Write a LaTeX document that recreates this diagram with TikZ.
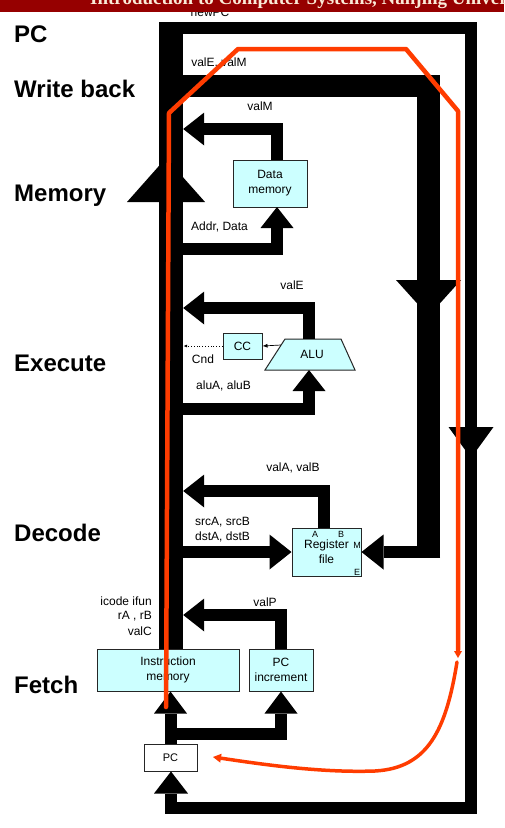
\documentclass[tikz,border=0pt]{standalone}
\usepackage{fontspec}
\setmainfont{Liberation Sans}
\newfontfamily\titlefont{Liberation Serif}
\usetikzlibrary{arrows.meta}
\definecolor{boxfill}{RGB}{204,255,255}
\definecolor{bannerred}{RGB}{150,0,0}
\definecolor{bannertext}{RGB}{250,235,215}
\definecolor{trace}{RGB}{255,60,0}
\begin{document}
\begin{tikzpicture}[x=1pt,y=-1pt,
  bus/.style={line width=12pt, line join=miter, line cap=butt},
  bh/.style={-{Triangle[length=21pt,width=33pt,line width=0pt]}},
  bhw/.style={-{Triangle[length=22pt,width=35pt,line width=0pt]}},
  box/.style={draw=black!85, line width=1pt, fill=boxfill, inner sep=0pt, align=center,
    font=\fontsize{12}{15}\selectfont},
  lbl/.style={inner sep=0pt, font=\fontsize{12}{14}\selectfont},
  tiny/.style={inner sep=0pt, font=\fontsize{9}{10}\selectfont},
  stage/.style={inner sep=0pt, anchor=base west, font=\fontsize{24}{28}\selectfont\bfseries},
  tracepath/.style={draw=trace, line join=round, line cap=round}
]
\useasboundingbox (0,0) rectangle (504,828);
\fill[white] (0,0) rectangle (504,828);

\node[lbl] (newpc) at (210,12) {newPC};
% banner
\fill[bannerred] (0,0) rectangle (504,12);
\begin{scope}
\clip (0,0) rectangle (504,12);
\node[inner sep=0pt, anchor=base west, text=bannertext, font=\titlefont\fontsize{19}{21}\selectfont\bfseries] (title) at (90,4) {Introduction to Computer Systems, Nanjing University};
\end{scope}

% stage labels
\node[stage] (sPC) at (14,42) {PC};
\node[stage] (sWB) at (14,97.5) {Write back};
\node[stage] (sMem) at (14,201.5) {Memory};
\node[stage] (sEx) at (14,371.5) {Execute};
\node[stage] (sDec) at (14,541.5) {Decode};
\node[stage] (sF) at (14,693.5) {Fetch};

% boxes
\node[box, minimum width=74pt, minimum height=47pt] (dmem) at (270,183.5) {Data\\memory};
\node[box, minimum width=39pt, minimum height=26pt] (cc) at (242.5,346) {CC};
\node[box, minimum width=69pt, minimum height=48pt] (reg) at (326.5,552) {Register\\file};
\node[box, minimum width=142pt, minimum height=42pt] (imem) at (168,670) {Instruction\\memory};
\node[box, minimum width=64pt, minimum height=42pt] (pcinc) at (281,670) {PC\\increment};
\node[box, fill=white, minimum width=53pt, minimum height=27pt, font=\fontsize{11}{13}\selectfont] (pc) at (170.5,757.5) {PC};
\draw[box] (265,370) -- (285,339) -- (341,339) -- (355,370) -- cycle;
\node[lbl] (alu) at (312,354.5) {ALU};
\coordinate (aluout) at (309,339);
\coordinate (aluin) at (309,370);
\coordinate (dmemout) at (277,160);
\coordinate (dmemin) at (277,207);
\coordinate (regA) at (323.5,528);
\coordinate (pcincout) at (281,649);

% register file port letters
\node[tiny] (pA) at (315,534) {A};
\node[tiny] (pB) at (341,534) {B};
\node[tiny] (pM) at (357,545) {M};
\node[tiny] (pE) at (357,572) {E};

% left vertical bus
\node[fill=black, inner sep=0pt, minimum width=24pt, minimum height=627pt] (lcol) at (171,335.5) {};
\fill[black] (127,202) -- (205,202) -- (166,158) -- cycle;

% newPC loop
\draw[bus, -{Triangle[length=22pt,width=34pt,line width=0pt]}] (159,28) -- (471,28) -- (471,807.5) -- (171,807.5) -- (pc.south -| 171,0);
\fill[black] (448.5,427) -- (493.5,427) -- (471,458) -- cycle;

% valE, valM write back bus
\draw[line width=22.5pt, line join=miter] (lcol.east |- 0,86) -- (428.5,86) -- (428.5,558);
\fill[black] (396,280) -- (461,280) -- (428.5,316) -- cycle;
\draw[bus, bhw] (440,552) -- (reg.east);

% memory
\draw[bus, bh] (dmemout) |- (lcol.east |- 0,129);
\draw[bus, bh] (lcol.east |- 0,249) -| (dmemin);

% execute
\draw[bus, bh] (aluout) |- (lcol.east |- 0,308);
\draw[bus, bh] (lcol.east |- 0,409) -| (aluin);
\draw[line width=0.7pt, -{Latex[length=5pt,width=4pt]}] (281,345) -- (cc.east);
\draw[line width=0.8pt, dotted, -{Latex[length=4pt,width=3pt]}] (cc.west) -- (lcol.east |- cc.west);

% decode
\draw[bus, bh] (regA) |- (lcol.east |- 0,491);
\draw[bus, bhw] (lcol.east |- reg.west) -- (reg.west);

% fetch
\draw[bus, bh] (pcincout) |- (lcol.east |- 0,615);
\draw[bus, -{Triangle[length=22pt,width=33pt,line width=0pt]}] (pc.north) -- (pc.north |- imem.south);
\draw[bus, -{Triangle[length=22pt,width=33pt,line width=0pt]}] (pc.north |- 0,734) -| (pcinc.south);

% labels
\node[lbl] (lvalEM) at (219,63) {valE, valM};
\node[lbl] (lvalM) at (260,106) {valM};
\node[lbl, anchor=west] (laddr) at (191,227) {Addr, Data};
\node[lbl] (lvalE) at (292,285) {valE};
\node[lbl] (lcnd) at (203,359) {Cnd};
\node[lbl, anchor=west] (lalu) at (196,386) {aluA, aluB};
\node[lbl] (lvalAB) at (293,468) {valA, valB};
\node[lbl, anchor=west] (lsrc) at (195,522) {srcA, srcB};
\node[lbl, anchor=west] (ldst) at (195,537) {dstA, dstB};
\node[lbl] (lvalP) at (265,602) {valP};
\node[lbl, anchor=east] (licode) at (152,601) {icode ifun};
\node[lbl, anchor=east] (lrab) at (152,616) {rA , rB};
\node[lbl, anchor=east] (lvalC) at (152,631) {valC};

% red trace
\draw[tracepath, line width=4.5pt] (166,707) -- (169,113) -- (238,49) -- (406,49) -- (458,111) -- (458,650);
\draw[tracepath, line width=3.5pt, -{Triangle[length=7pt,width=8pt,line width=0pt]}] (458,640) -- (458,658);
\draw[tracepath, line width=3.5pt, -{Triangle[length=8pt,width=9pt,line width=0pt]}] (457,662) .. controls (446,730) and (428,768) .. (375,771) .. controls (320,773) and (260,764) .. (213,757);
\end{tikzpicture}
\end{document}
